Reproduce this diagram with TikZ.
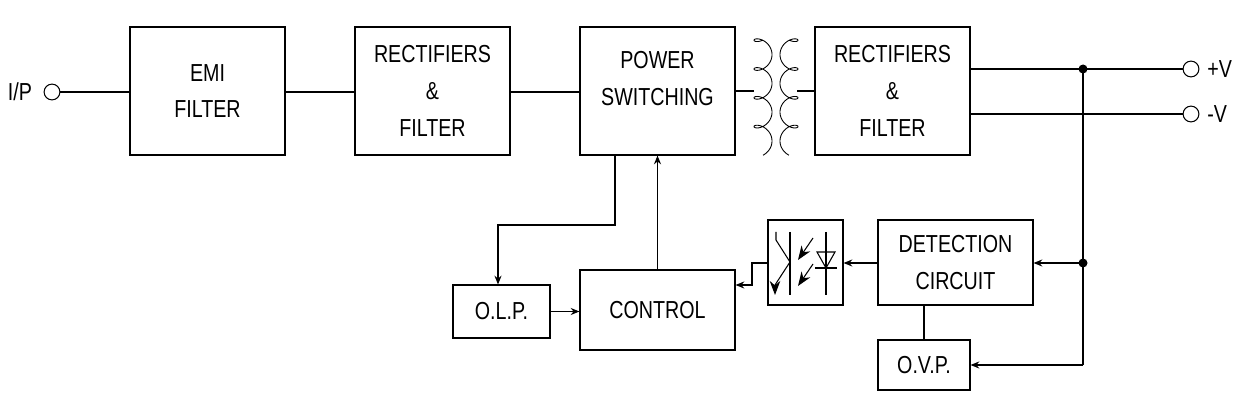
\documentclass[tikz,border=0pt]{standalone}
\usepackage{fontspec}
\setmainfont{Liberation Sans}[FakeStretch=0.8]
\usetikzlibrary{arrows.meta}
\begin{document}
\begin{tikzpicture}[x=0.02cm,y=-0.02cm,line width=0.6pt,
  box/.style={draw,minimum width=#1*0.02cm,align=center,font=\fontsize{14}{21}\selectfont,inner sep=0},
  arr/.style={-{Stealth[length=5pt,width=4pt]}},
  term/.style={draw,circle,minimum size=9pt,inner sep=0}]
\useasboundingbox (0,0) rectangle (1245,405);
\node[box=155,minimum height=128*0.02cm] (emi) at (207.5,91) {EMI\\FILTER};
\node[box=155,minimum height=128*0.02cm] (r1) at (432.5,91) {RECTIFIERS\\\&\\FILTER};
\node[box=155,minimum height=128*0.02cm,text depth=14pt] (ps) at (657.5,91) {POWER\\SWITCHING};
\node[box=155,minimum height=128*0.02cm] (r2) at (892.5,91) {RECTIFIERS\\\&\\FILTER};
\node[box=155,minimum height=80*0.02cm] (ctl) at (657.5,310) {CONTROL};
\node[box=97,minimum height=53*0.02cm] (olp) at (501.5,311.5) {O.L.P.};
\node[box=75,minimum height=85*0.02cm] (opto) at (805.5,262.5) {};
\node[box=155,minimum height=85*0.02cm] (det) at (955.5,262.5) {DETECTION\\CIRCUIT};
\node[box=92,minimum height=50*0.02cm] (ovp) at (924,365) {O.V.P.};
\node[font=\fontsize{14}{15}\selectfont] (ip) at (20,92) {I/P};
\node[term] (c0) at (52,92) {};
\node[term] (cp) at (1191,69) {};
\node[term] (cm) at (1191,114) {};
\node[font=\fontsize{14}{15}\selectfont,anchor=west] (pv) at (1201,69) {+V};
\node[font=\fontsize{14}{15}\selectfont,anchor=west] (mv) at (1201,114) {-V};
\coordinate (j1) at (1083,69);
\coordinate (j2) at (1083,263);
\coordinate (j3) at (1083,365);
\fill (j1) circle (4.5); \fill (j2) circle (4.5);
\draw (c0) -- (emi.west|-c0);
\draw (emi.east|-c0) -- (r1.west|-c0);
\draw (r1.east|-c0) -- (ps.west|-c0);
\draw (r2.east|-cp) -- (cp);
\draw (r2.east|-cm) -- (cm);
\draw (j1) -- (j3);
\draw[arr] (j2) -- (det.east|-j2);
\draw[arr] (det.west|-j2) -- (opto.east|-j2);
\draw[arr] (opto.west|-j2) -- (752,263) -- (752,285) -- (ctl.east|-0,285);
\draw (ovp.north) -- (det.south-|ovp.north);
\draw[arr] (j3) -- (ovp.east|-j3);
\draw[arr] (ps.south-|615,0) -- (615,225) -- (498,225) -- (olp.north-|498,0);
\draw[arr] (olp.east) -- (ctl.west|-olp.east);
\draw[arr] (ctl.north) -- (ps.south-|ctl.north);
% transformer
\draw (ps.east) -- (754,91);
\draw (797,91) -- (r2.west);
\draw[line width=0.5pt] plot[domain=-90:1350,samples=200,smooth] ({763-9*cos(\x)},{33+(\x+90)/12.5 - 7*sin(\x)});
\draw[line width=0.5pt] plot[domain=-90:1350,samples=200,smooth] ({789+9*cos(\x)},{33+(\x+90)/12.5 - 7*sin(\x)});
% opto internals
\draw (790,232) -- (790,295);
\draw (776,232) -- (776,240) -- (790,262);
\draw[-{Stealth[length=8pt,width=6pt]}] (790,262) -- (775,285) -- (775,295);
\draw[-{Stealth[length=8pt,width=6pt]}] (813,238) -- (798,260);
\draw[-{Stealth[length=8pt,width=6pt]}] (813,264) -- (798,286);
\draw (826,232) -- (826,295);
\draw (817,252) -- (835,252) -- (826,268) -- cycle;
\draw (815,268) -- (837,268);
\end{tikzpicture}
\end{document}
